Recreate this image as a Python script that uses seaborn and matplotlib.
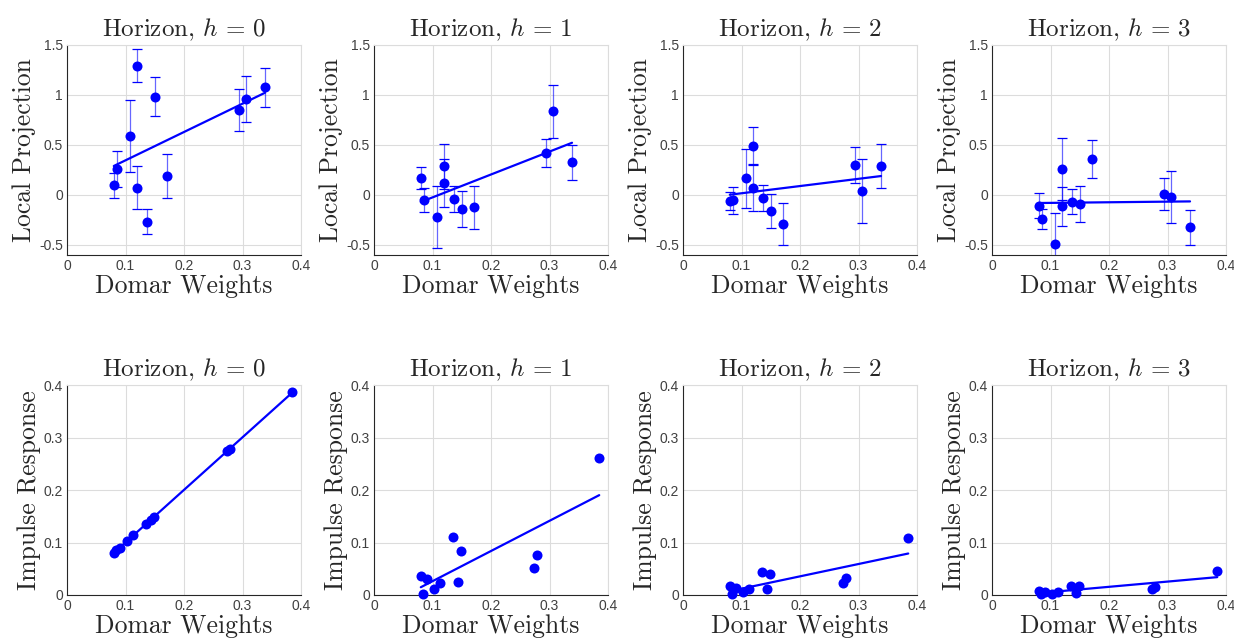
import numpy as np
import pandas as pd
import matplotlib
matplotlib.use("Agg")
import matplotlib.pyplot as plt
import seaborn as sns
from matplotlib.ticker import FuncFormatter

sns.set_style("white")
plt.rcParams['font.family'] = ['Liberation Sans', 'DejaVu Sans']
plt.rcParams['mathtext.fontset'] = 'cm'
plt.rcParams['axes.unicode_minus'] = False

horizons = [0, 1, 2, 3]

# top row: local projection estimates (+/- error band) against Domar weights
domar_lp = [0.080, 0.086, 0.1075, 0.1195, 0.1205, 0.137, 0.1505, 0.1715, 0.294, 0.306, 0.3385]
lp_h0 = [0.10, 0.26, 0.59, 1.293, 0.073, -0.267, 0.983, 0.19, 0.85, 0.963, 1.077]
se_h0 = [0.125, 0.18, 0.36, 0.165, 0.215, 0.127, 0.195, 0.223, 0.21, 0.23, 0.193]
lp_h1 = [0.173, -0.05, -0.22, 0.287, 0.123, -0.043, -0.137, -0.123, 0.42, 0.837, 0.327]
se_h1 = [0.11, 0.12, 0.31, 0.225, 0.24, 0.13, 0.18, 0.217, 0.14, 0.263, 0.173]
lp_h2 = [-0.057, -0.05, 0.167, 0.49, 0.073, -0.03, -0.16, -0.29, 0.30, 0.04, 0.293]
se_h2 = [0.09, 0.135, 0.297, 0.19, 0.233, 0.133, 0.173, 0.208, 0.178, 0.32, 0.218]
lp_h3 = [-0.107, -0.243, -0.487, 0.257, -0.11, -0.067, -0.093, 0.36, 0.013, -0.017, -0.323]
se_h3 = [0.127, 0.10, 0.303, 0.31, 0.195, 0.127, 0.18, 0.19, 0.158, 0.26, 0.178]

# bottom row: model impulse responses against Domar weights
domar_ir = [0.080, 0.0845, 0.090, 0.102, 0.1135, 0.1345, 0.143, 0.1485, 0.274, 0.279, 0.385]
ir_h0 = [0.080, 0.085, 0.090, 0.102, 0.114, 0.135, 0.143, 0.148, 0.274, 0.279, 0.386]
ir_h1 = [0.0356, 0.002, 0.031, 0.0114, 0.0229, 0.110, 0.024, 0.0844, 0.0522, 0.0762, 0.2616]
ir_h2 = [0.0165, 0.002, 0.0127, 0.005, 0.0108, 0.0444, 0.0108, 0.040, 0.0222, 0.0324, 0.108]
ir_h3 = [0.0083, 0.0013, 0.0063, 0.0025, 0.005, 0.018, 0.0044, 0.0178, 0.011, 0.0146, 0.0457]

lp_all = [lp_h0, lp_h1, lp_h2, lp_h3]
se_all = [se_h0, se_h1, se_h2, se_h3]
ir_all = [ir_h0, ir_h1, ir_h2, ir_h3]

blue = (0, 0, 1)
dark = '#262626'
gridc = '#dcdcdc'
fmt = FuncFormatter(lambda v, p: '%g' % round(v, 2))

fig = plt.figure(figsize=(12.34, 6.42), dpi=100)
W, H = 1234, 642
lefts = [67, 374, 683, 992]


def style_axes(ax, ylabel, ylim, yticks):
    ax.set_xlim(0, 0.4)
    ax.set_ylim(*ylim)
    ax.set_xticks([0, 0.1, 0.2, 0.3, 0.4])
    ax.set_yticks(yticks)
    ax.xaxis.set_major_formatter(fmt)
    ax.yaxis.set_major_formatter(fmt)
    ax.grid(True, color=gridc, linewidth=0.8)
    ax.set_axisbelow(True)
    for s in ['top', 'right']:
        ax.spines[s].set_color(gridc)
        ax.spines[s].set_linewidth(0.8)
    for s in ['left', 'bottom']:
        ax.spines[s].set_color(dark)
        ax.spines[s].set_linewidth(0.8)
    ax.tick_params(direction='in', length=3, width=0.6, colors=dark,
                   labelsize=10, pad=3)
    ax.tick_params(labelcolor='#404040')
    ax.set_xlabel('Domar Weights', fontfamily='cmr10', fontsize=18.5,
                  color=dark, labelpad=1)
    ax.set_ylabel(ylabel, fontfamily='cmr10', fontsize=18.5, color=dark,
                  labelpad=2)


for i, h in enumerate(horizons):
    title = r'Horizon, $h\,=\,%d$' % h

    # local projections
    ax = fig.add_axes([lefts[i] / W, 1 - 255 / H, 234 / W, 210 / H])
    df = pd.DataFrame({'w': domar_lp, 'lp': lp_all[i], 'se': se_all[i]})
    eb = ax.errorbar(df['w'], df['lp'], yerr=df['se'], fmt='none',
                     ecolor=blue, elinewidth=0.9, capsize=3.5, capthick=0.9)
    eb[2][0].set_alpha(0.6)
    sns.regplot(data=df, x='w', y='lp', ax=ax, scatter=False, ci=None,
                color=blue, line_kws={'linewidth': 1.6})
    sns.scatterplot(data=df, x='w', y='lp', ax=ax, color=blue, s=52,
                    linewidth=0, zorder=5)
    style_axes(ax, 'Local Projection', (-0.6, 1.5), [-0.5, 0, 0.5, 1, 1.5])
    ax.set_title(title, fontfamily='cmr10', fontsize=18, pad=6)

    # impulse responses
    ax = fig.add_axes([lefts[i] / W, 1 - 595 / H, 234 / W, 210 / H])
    df = pd.DataFrame({'w': domar_ir, 'ir': ir_all[i]})
    sns.regplot(data=df, x='w', y='ir', ax=ax, scatter=False, ci=None,
                color=blue, line_kws={'linewidth': 1.6})
    sns.scatterplot(data=df, x='w', y='ir', ax=ax, color=blue, s=52,
                    linewidth=0, zorder=5, clip_on=False)
    style_axes(ax, 'Impulse Response', (0, 0.4), [0, 0.1, 0.2, 0.3, 0.4])
    ax.set_title(title, fontfamily='cmr10', fontsize=18, pad=6)

fig.savefig('out.png', dpi=100)
